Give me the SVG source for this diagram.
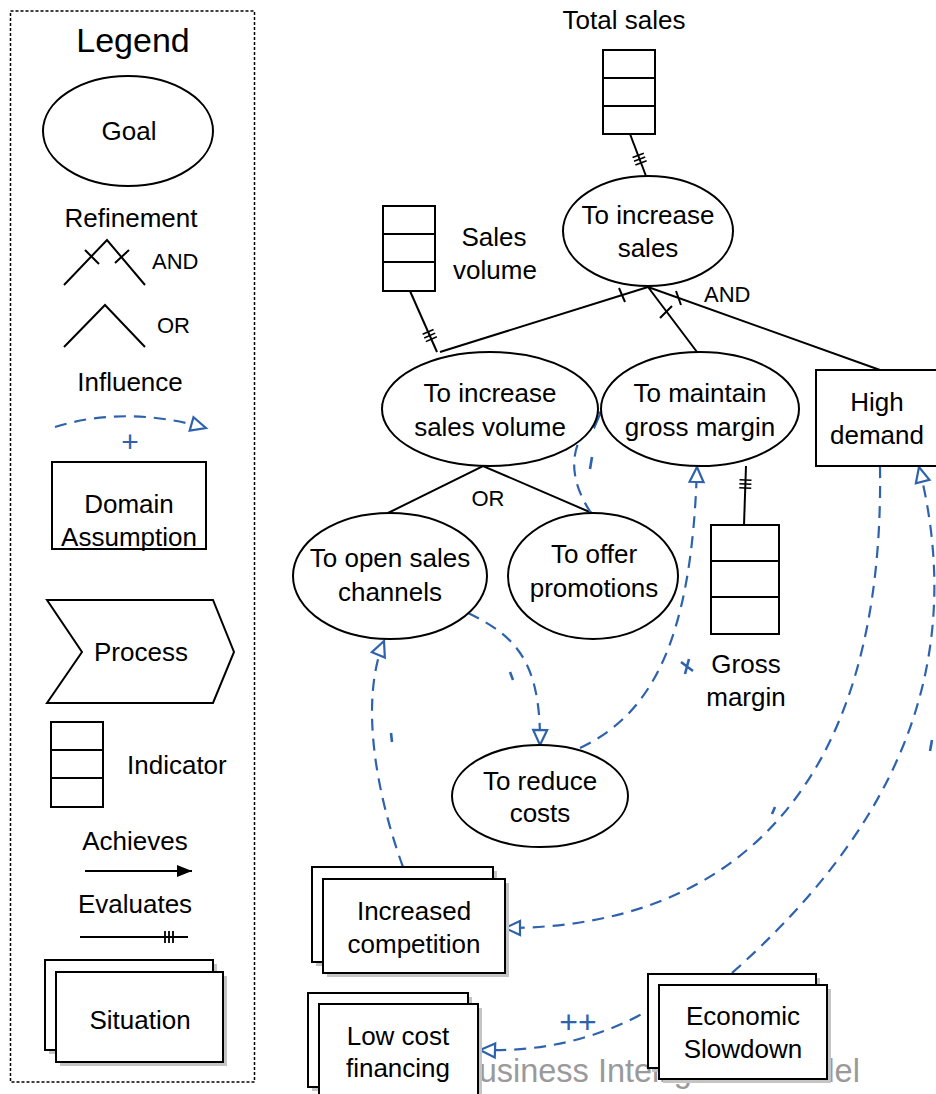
<svg xmlns="http://www.w3.org/2000/svg" width="936" height="1094" viewBox="0 0 936 1094">
<style>
text{font-family:"Liberation Sans",Arial,sans-serif;fill:#000}
.t{font-size:26px;text-anchor:middle}
.s{font-size:22px}
.ln{fill:none;stroke:#000;stroke-width:2}
.sh{fill:#fff;stroke:#000;stroke-width:2}
.shadow{fill:#c4c4c4}
.inf{fill:none;stroke:#2e62ad;stroke-width:2.2;stroke-dasharray:12 8}
.infs{fill:none;stroke:#2e62ad;stroke-width:2.6}
.bl{fill:#2e62ad}
</style>
<defs>
<marker id="tri" markerUnits="userSpaceOnUse" orient="auto" refX="0" refY="0" markerWidth="1" markerHeight="1" overflow="visible">
<path d="M0,0 L-15,-7 L-15,7 Z" fill="#fff" stroke="#2e62ad" stroke-width="2.2" stroke-linejoin="miter"/>
</marker>
<marker id="ticks" markerUnits="userSpaceOnUse" orient="auto" refX="0" refY="0" markerWidth="1" markerHeight="1" overflow="visible">
<path d="M-22,-6 L-22,6 M-18,-6 L-18,6 M-14,-6 L-14,6" stroke="#000" stroke-width="1.6" fill="none"/>
</marker>
<marker id="fill" markerUnits="userSpaceOnUse" orient="auto" refX="0" refY="0" markerWidth="1" markerHeight="1" overflow="visible">
<path d="M0,0 L-15,-6 L-15,6 Z" fill="#000"/>
</marker>
</defs>

<!-- Legend -->
<g id="legend">
<rect x="10.5" y="11" width="244" height="1071" fill="none" stroke="#000" stroke-width="1.5" stroke-dasharray="3 2"/>
<text x="133" y="52" style="font-size:34px;text-anchor:middle">Legend</text>
<ellipse cx="128" cy="131" rx="85" ry="55" class="sh"/>
<text x="129" y="140" class="t">Goal</text>
<text x="131" y="227" class="t">Refinement</text>
<path d="M64,285 L107,240 L145,285" class="ln"/>
<path d="M85,250 L99,264 M115,263 L129,250" class="ln"/>
<text x="152" y="269" class="s">AND</text>
<path d="M64,347 L105,305 L145,347" class="ln"/>
<text x="157" y="333" class="s">OR</text>
<text x="130" y="391" class="t">Influence</text>
<path d="M55,427 Q125,405 206,428" class="inf" marker-end="url(#tri)"/>
<text x="130" y="452" class="bl" style="text-anchor:middle;font-size:30px">+</text>
<rect x="52" y="462" width="154" height="87" class="sh"/>
<text x="129" y="513" class="t">Domain</text>
<text x="129" y="546" class="t">Assumption</text>
<path d="M47,600 L213,600 L234,652 L213,703 L47,703 L82,652 Z" class="sh"/>
<text x="141" y="661" class="t">Process</text>
<rect x="51" y="722" width="52" height="85" class="sh"/>
<path d="M51,750 H103 M51,778 H103" class="ln"/>
<text x="127" y="774" style="font-size:26px">Indicator</text>
<text x="135" y="850" class="t">Achieves</text>
<path d="M85,871 L192,871" class="ln" marker-end="url(#fill)"/>
<text x="135" y="913" class="t">Evaluates</text>
<path d="M80,937 L188,937 M165,931 V943 M169,931 V943 M173,931 V943" class="ln" style="stroke-width:1.8"/>
<rect x="49" y="964" width="168" height="90" class="shadow"/>
<rect x="45" y="960" width="168" height="90" class="sh"/>
<rect x="60" y="976" width="167" height="90" class="shadow"/>
<rect x="56" y="972" width="167" height="90" class="sh"/>
<text x="140" y="1029" class="t">Situation</text>
</g>

<!-- background watermark text -->
<text x="457" y="1082" style="font-size:32.5px;fill:#9a9a9a">Business Intelligence Model</text>

<!-- Connectors -->
<g id="connectors">
<path d="M630,134 L646,176" class="ln" marker-end="url(#ticks)"/>
<path d="M410,291 L437,352" class="ln" marker-end="url(#ticks)"/>
<path d="M744,525 L746,466" class="ln" marker-end="url(#ticks)"/>
<path d="M648,287 L440,352 M648,287 L697,352 M648,287 L880,370" class="ln"/>
<path d="M619,288 L625,302 M660,318 L672,306 M676,291 L681,305" class="ln"/>
<text x="704" y="302" class="s">AND</text>
<path d="M388,513 L483,466 L592,513" class="ln"/>
<text x="488" y="506" class="s" style="text-anchor:middle">OR</text>
<path d="M591,513 C568,478 566,443 601,412" class="inf" marker-end="url(#tri)"/>
<path d="M592,457 L590,469" class="infs"/>
<path d="M468,613 C516,636 541,662 540,745" class="inf" marker-end="url(#tri)"/>
<path d="M510,672 L513,680" class="infs"/>
<path d="M580,748 C652,714 692,640 697,467" class="inf" marker-end="url(#tri)"/>
<path d="M681,662 L693,671 M685,674 L689,659" class="infs"/>
<path d="M403,867 C375,790 360,700 384,641" class="inf" marker-end="url(#tri)"/>
<path d="M391,733 L392,742" class="infs"/>
<path d="M880,466 C885,780 740,928 505,928" class="inf" marker-end="url(#tri)"/>
<path d="M772,814 L775,807" class="infs"/>
<path d="M732,973 C870,850 975,690 919,467" class="inf" marker-end="url(#tri)"/>
<path d="M932,740 L930,751" class="infs"/>
<path d="M658,1005 C600,1040 540,1052 480,1050" class="inf" marker-end="url(#tri)"/>
<text x="578" y="1033" class="bl" style="font-size:32px;text-anchor:middle">++</text>
</g>

<!-- Nodes -->
<g id="total-sales">
<rect x="603" y="50" width="52" height="84" class="sh"/>
<path d="M603,78 H655 M603,106 H655" class="ln"/>
<text x="624" y="29" class="t">Total sales</text>
</g>
<g id="increase-sales">
<ellipse cx="648" cy="231" rx="85" ry="55" class="sh"/>
<text x="648" y="224" class="t">To increase</text>
<text x="648" y="257" class="t">sales</text>
</g>
<g id="sales-volume-ind">
<rect x="383" y="206" width="52" height="85" class="sh"/>
<path d="M383,234 H435 M383,262 H435" class="ln"/>
<text x="494" y="246" class="t">Sales</text>
<text x="495" y="279" class="t">volume</text>
</g>
<g id="increase-sales-volume">
<ellipse cx="490" cy="409" rx="108" ry="57" class="sh"/>
<text x="490" y="402" class="t">To increase</text>
<text x="490" y="436" class="t">sales volume</text>
</g>
<g id="maintain-gross-margin">
<ellipse cx="700" cy="409" rx="99" ry="57" class="sh"/>
<text x="700" y="402" class="t">To maintain</text>
<text x="700" y="436" class="t">gross margin</text>
</g>
<g id="high-demand">
<rect x="816" y="370" width="125" height="96" class="sh"/>
<text x="877" y="411" class="t">High</text>
<text x="877" y="444" class="t">demand</text>
</g>
<g id="open-sales-channels">
<ellipse cx="390" cy="576" rx="97" ry="63" class="sh"/>
<text x="390" y="567" class="t">To open sales</text>
<text x="390" y="601" class="t">channels</text>
</g>
<g id="offer-promotions">
<ellipse cx="593" cy="576" rx="85" ry="63" class="sh"/>
<text x="594" y="563" class="t">To offer</text>
<text x="594" y="597" class="t">promotions</text>
</g>
<g id="gross-margin-ind">
<rect x="711" y="525" width="68" height="109" class="sh"/>
<path d="M711,561 H779 M711,597 H779" class="ln"/>
<text x="746" y="673" class="t">Gross</text>
<text x="746" y="706" class="t">margin</text>
</g>
<g id="reduce-costs">
<ellipse cx="540" cy="796" rx="88" ry="51" class="sh"/>
<text x="540" y="790" class="t">To reduce</text>
<text x="540" y="822" class="t">costs</text>
</g>
<g id="increased-competition">
<rect x="316" y="871" width="181" height="95" class="shadow"/>
<rect x="312" y="867" width="181" height="95" class="sh"/>
<rect x="327" y="883" width="182" height="94" class="shadow"/>
<rect x="323" y="879" width="182" height="94" class="sh"/>
<text x="414" y="920" class="t">Increased</text>
<text x="414" y="953" class="t">competition</text>
</g>
<g id="low-cost-financing">
<rect x="312" y="997" width="160" height="94" class="shadow"/>
<rect x="308" y="993" width="160" height="94" class="sh"/>
<rect x="323" y="1008" width="159" height="120" class="shadow"/>
<rect x="319" y="1004" width="159" height="120" class="sh"/>
<text x="398" y="1045" class="t">Low cost</text>
<text x="398" y="1077" class="t">financing</text>
</g>
<g id="economic-slowdown">
<rect x="652" y="978" width="168" height="94" class="shadow"/>
<rect x="648" y="974" width="168" height="94" class="sh"/>
<rect x="663" y="989" width="168" height="94" class="shadow"/>
<rect x="659" y="985" width="168" height="94" class="sh"/>
<text x="743" y="1025" class="t">Economic</text>
<text x="743" y="1058" class="t">Slowdown</text>
</g>
</svg>
